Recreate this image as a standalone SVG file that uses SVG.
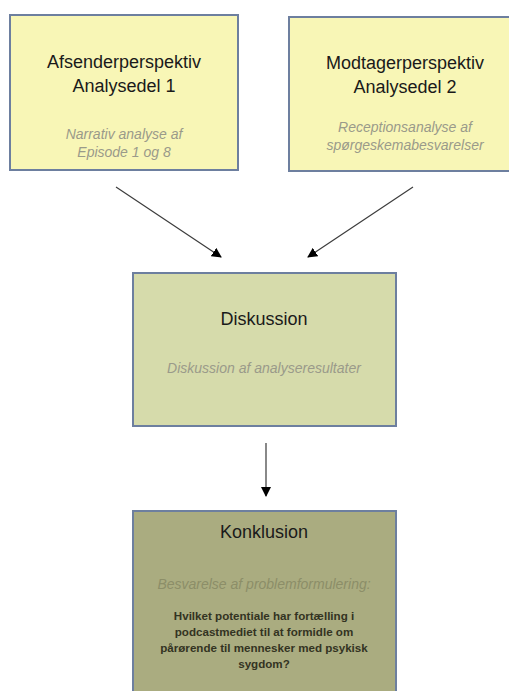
<svg xmlns="http://www.w3.org/2000/svg" width="509" height="691" viewBox="0 0 509 691">
<style>
text{font-family:"Liberation Sans",Arial,sans-serif;text-anchor:middle}
.t{font-size:18px;fill:#1a1a1a}
.s{font-size:14px;font-style:italic;fill:#9a9a8a}
.q{font-size:11.6px;font-weight:bold;fill:#333322}
.box{stroke:#6d7f9f;stroke-width:2}
.c{stroke:#3a3a3a;stroke-width:1.2;fill:none;marker-end:url(#ah)}
</style>
<defs>
<marker id="ah" markerWidth="10" markerHeight="10" refX="9" refY="5" orient="auto" markerUnits="userSpaceOnUse">
<path d="M0,0 L10,5 L0,10 z" fill="#000"/>
</marker>
</defs>
<rect width="509" height="691" fill="#fff"/>
<g id="afsender">
<rect class="box" x="10" y="15" width="228" height="155" fill="#f8f6b6"/>
<text class="t" x="124" y="67.5">Afsenderperspektiv</text>
<text class="t" x="124" y="91.5">Analysedel 1</text>
<text class="s" x="124" y="139">Narrativ analyse af</text>
<text class="s" x="124" y="157">Episode 1 og 8</text>
</g>
<g id="modtager">
<rect class="box" x="289" y="17" width="232" height="154" fill="#f8f6b6"/>
<text class="t" x="405" y="69">Modtagerperspektiv</text>
<text class="t" x="405" y="93">Analysedel 2</text>
<text class="s" x="405" y="132">Receptionsanalyse af</text>
<text class="s" x="405" y="150">spørgeskemabesvarelser</text>
</g>
<g id="diskussion">
<rect class="box" x="133" y="273" width="263" height="153" fill="#d6dbab"/>
<text class="t" x="264" y="325">Diskussion</text>
<text class="s" x="264" y="373">Diskussion af analyseresultater</text>
</g>
<g id="konklusion">
<rect class="box" x="133" y="511" width="263" height="190" fill="#aaac80"/>
<text class="t" x="264" y="538">Konklusion</text>
<text class="s" x="264" y="589" style="fill:#8c8e68">Besvarelse af problemformulering:</text>
<text class="q" x="264" y="620">Hvilket potentiale har fortælling i</text>
<text class="q" x="264" y="636">podcastmediet til at formidle om</text>
<text class="q" x="264" y="652">pårørende til mennesker med psykisk</text>
<text class="q" x="264" y="668">sygdom?</text>
</g>
<g id="connectors">
<line class="c" x1="116" y1="187" x2="221" y2="257"/>
<line class="c" x1="413" y1="187" x2="308" y2="257"/>
<line class="c" x1="266" y1="443" x2="266" y2="496"/>
</g>
</svg>
